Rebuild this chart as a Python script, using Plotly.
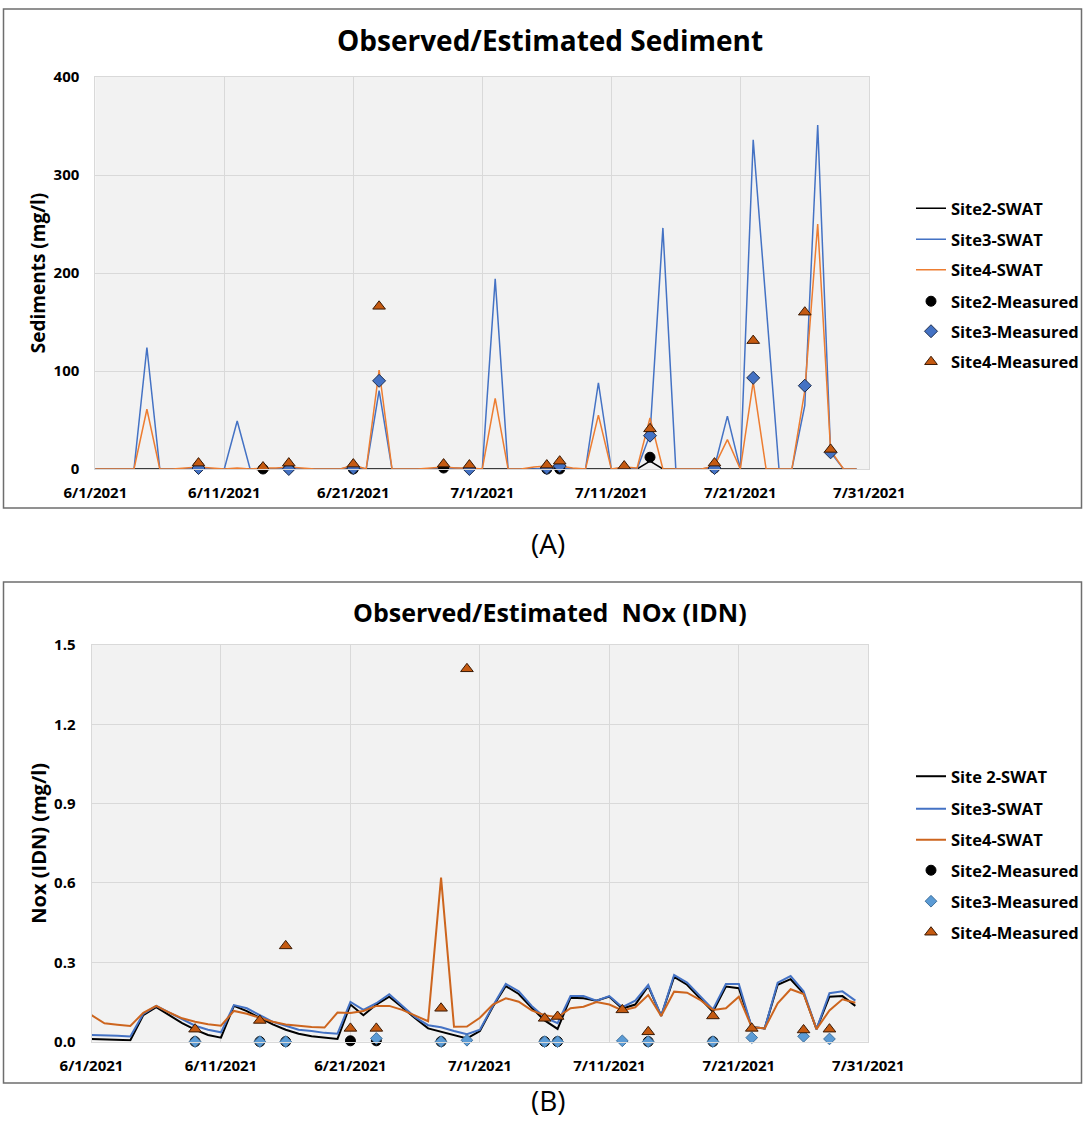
import plotly.graph_objects as go
import pandas as pd

# ---------------- data ----------------
dates = pd.date_range("2021-06-01", periods=60, freq="D")
tick_dates = ["2021-06-01", "2021-06-11", "2021-06-21", "2021-07-01",
              "2021-07-11", "2021-07-21", "2021-07-31"]
tick_labels = ["6/1/2021", "6/11/2021", "6/21/2021", "7/1/2021",
               "7/11/2021", "7/21/2021", "7/31/2021"]

# (A) Sediment, mg/l, daily SWAT estimates 6/1 .. 7/30
sed_site2_swat = [0, 0, 0, 0, 0, 0, 0, 0, 1, 0,
                  0, 0, 0, 0, 0, 0, 0, 0, 0, 0,
                  0, 0, 0, 0, 0, 0, 0, 0, 0, 0,
                  0, 0, 0, 0, 0, 0, 0, 0, 0, 0,
                  0, 0, 0, 8, 0, 0, 0, 0, 0, 0,
                  0, 0, 0, 0, 0, 0, 0, 0, 0, 0]
sed_site3_swat = [0, 0, 0, 0, 124, 0, 0, 0, 1, 0,
                  0, 49, 0, 0, 0, 1, 0, 0, 0, 0,
                  3, 0, 80, 0, 0, 0, 0, 0, 1, 0,
                  0, 194, 0, 0, 0, 1, 2, 0, 0, 88,
                  0, 1, 0, 35, 246, 0, 0, 0, 2, 54,
                  0, 336, 168, 0, 0, 65, 351, 17, 0, 0]
sed_site4_swat = [0, 0, 0, 0, 61, 0, 0, 1, 2, 1,
                  0, 1, 0, 1, 1, 2, 1, 0, 0, 0,
                  4, 0, 101, 0, 0, 0, 1, 2, 1, 1,
                  0, 72, 0, 0, 2, 3, 3, 1, 0, 55,
                  0, 2, 1, 52, 0, 0, 0, 0, 3, 30,
                  0, 89, 0, 0, 0, 80, 250, 19, 0, 0]

sed_site2_meas_dates = ["2021-06-09", "2021-06-14", "2021-06-16", "2021-06-21", "2021-06-28",
                        "2021-07-06", "2021-07-07", "2021-07-14", "2021-07-19"]
sed_site2_meas = [3, 0, 1, 0, 1, 0, 0, 12, 1]
sed_site3_meas_dates = ["2021-06-09", "2021-06-16", "2021-06-21", "2021-06-23", "2021-06-30",
                        "2021-07-06", "2021-07-07", "2021-07-14", "2021-07-19", "2021-07-22",
                        "2021-07-26", "2021-07-28"]
sed_site3_meas = [1, 0, 1, 90, 0, 1, 3, 34, 1, 93, 85, 17]
sed_site4_meas_dates = ["2021-06-09", "2021-06-14", "2021-06-16", "2021-06-21", "2021-06-23",
                        "2021-06-28", "2021-06-30", "2021-07-06", "2021-07-07", "2021-07-12",
                        "2021-07-14", "2021-07-19", "2021-07-22", "2021-07-26", "2021-07-28"]
sed_site4_meas = [6, 2, 6, 5, 166, 5, 4, 4, 8, 3, 41, 6, 131, 160, 20]

# (B) NOx (IDN), mg/l, daily SWAT estimates 6/1 .. 7/30
nox_site2_swat = [0.010, 0.008, 0.006, 0.005, 0.100, 0.130, 0.100, 0.070, 0.045, 0.025,
                  0.015, 0.135, 0.115, 0.090, 0.065, 0.045, 0.030, 0.020, 0.015, 0.010,
                  0.140, 0.100, 0.140, 0.170, 0.130, 0.088, 0.050, 0.037, 0.025, 0.012,
                  0.040, 0.132, 0.210, 0.180, 0.128, 0.080, 0.048, 0.166, 0.164, 0.155,
                  0.170, 0.125, 0.140, 0.210, 0.097, 0.245, 0.215, 0.164, 0.113, 0.208,
                  0.202, 0.054, 0.050, 0.215, 0.236, 0.183, 0.047, 0.170, 0.172, 0.135]
nox_site3_swat = [0.025, 0.024, 0.022, 0.019, 0.105, 0.135, 0.110, 0.085, 0.060, 0.045,
                  0.035, 0.138, 0.126, 0.100, 0.075, 0.060, 0.045, 0.040, 0.033, 0.030,
                  0.150, 0.120, 0.145, 0.179, 0.135, 0.092, 0.062, 0.054, 0.040, 0.028,
                  0.045, 0.135, 0.218, 0.190, 0.135, 0.092, 0.070, 0.172, 0.172, 0.155,
                  0.172, 0.130, 0.155, 0.214, 0.097, 0.252, 0.223, 0.172, 0.122, 0.218,
                  0.218, 0.054, 0.050, 0.223, 0.248, 0.190, 0.047, 0.183, 0.190, 0.155]
nox_site4_swat = [0.100, 0.069, 0.064, 0.059, 0.109, 0.135, 0.110, 0.088, 0.075, 0.066,
                  0.060, 0.116, 0.105, 0.090, 0.075, 0.065, 0.060, 0.055, 0.053, 0.110,
                  0.108, 0.116, 0.135, 0.135, 0.120, 0.100, 0.077, 0.620, 0.056, 0.057,
                  0.090, 0.140, 0.164, 0.151, 0.118, 0.100, 0.092, 0.126, 0.132, 0.150,
                  0.140, 0.118, 0.130, 0.176, 0.097, 0.189, 0.185, 0.158, 0.120, 0.126,
                  0.170, 0.054, 0.050, 0.145, 0.198, 0.180, 0.047, 0.118, 0.160, 0.147]

nox_site2_meas_dates = ["2021-06-09", "2021-06-14", "2021-06-16", "2021-06-21", "2021-06-23",
                        "2021-06-28", "2021-07-06", "2021-07-07", "2021-07-14", "2021-07-19"]
nox_site2_meas = [0, 0, 0, 0.003, 0.003, 0, 0, 0, 0, 0]
nox_site3_meas_dates = ["2021-06-09", "2021-06-14", "2021-06-16", "2021-06-23", "2021-06-28",
                        "2021-06-30", "2021-07-06", "2021-07-07", "2021-07-12", "2021-07-14",
                        "2021-07-19", "2021-07-22", "2021-07-26", "2021-07-28"]
nox_site3_meas = [0, 0, 0, 0.012, 0, 0.005, 0, 0, 0.003, 0, 0, 0.015, 0.02, 0.01]
nox_site4_meas_dates = ["2021-06-09", "2021-06-14", "2021-06-16", "2021-06-21", "2021-06-23",
                        "2021-06-28", "2021-06-30", "2021-07-06", "2021-07-07", "2021-07-12",
                        "2021-07-14", "2021-07-19", "2021-07-22", "2021-07-26", "2021-07-28"]
nox_site4_meas = [0.047, 0.08, 0.362, 0.05, 0.05, 0.126, 1.41, 0.088, 0.095, 0.12,
                  0.037, 0.097, 0.05, 0.044, 0.047]

# ---------------- figure ----------------
W, H = 1084, 1131
FONT = "Open Sans"
BLACK = "#000000"
BLUE = "#4472C4"
ORANGE_A = "#ED7D31"
ORANGE_B = "#CD651E"
TRI = "#C55A11"
DIA_A = "#4472C4"
DIA_B = "#5B9BD5"


def px(x):
    return x / W


def py(y):
    return 1 - y / H


fig = go.Figure()
leg_idx = [0]


def next_legend():
    leg_idx[0] += 1
    return "legend" if leg_idx[0] == 1 else f"legend{leg_idx[0]}"


def add_line(x, y, name, color, width, xa, ya):
    lg = next_legend()
    fig.add_trace(go.Scatter(x=x, y=y, mode="lines", name=name,
                             line=dict(color=color, width=width),
                             xaxis=xa, yaxis=ya, legend=lg, cliponaxis=False))
    return lg


def add_marks(x, y, name, symbol, fill, edge, size, xa, ya):
    lg = next_legend()
    fig.add_trace(go.Scatter(x=x, y=y, mode="markers", name=name,
                             marker=dict(symbol=symbol, color=fill, size=size,
                                         line=dict(color=edge, width=1)),
                             xaxis=xa, yaxis=ya, legend=lg, cliponaxis=False))
    return lg


legs_a = [
    add_line(dates, sed_site2_swat, "Site2-SWAT", BLACK, 1.5, "x", "y"),
    add_line(dates, sed_site3_swat, "Site3-SWAT", BLUE, 1.5, "x", "y"),
    add_line(dates, sed_site4_swat, "Site4-SWAT", ORANGE_A, 1.5, "x", "y"),
    add_marks(sed_site2_meas_dates, sed_site2_meas, "Site2-Measured", "circle", BLACK, BLACK, 10, "x", "y"),
    add_marks(sed_site3_meas_dates, sed_site3_meas, "Site3-Measured", "diamond", DIA_A, "#1F2F4F", 10, "x", "y"),
    add_marks(sed_site4_meas_dates, sed_site4_meas, "Site4-Measured", "triangle-up", TRI, "#3A1A05", 11, "x", "y"),
]
legs_b = [
    add_line(dates, nox_site2_swat, "Site 2-SWAT", BLACK, 2, "x2", "y2"),
    add_line(dates, nox_site3_swat, "Site3-SWAT", BLUE, 2, "x2", "y2"),
    add_line(dates, nox_site4_swat, "Site4-SWAT", ORANGE_B, 2, "x2", "y2"),
    add_marks(nox_site2_meas_dates, nox_site2_meas, "Site2-Measured", "circle", BLACK, BLACK, 10, "x2", "y2"),
    add_marks(nox_site3_meas_dates, nox_site3_meas, "Site3-Measured", "diamond", DIA_B, "#41719C", 9, "x2", "y2"),
    add_marks(nox_site4_meas_dates, nox_site4_meas, "Site4-Measured", "triangle-up", TRI, "#3A1A05", 11, "x2", "y2"),
]

tick_font = dict(family=FONT, size=15, color="#000000", weight="bold")
leg_font = dict(family=FONT, size=16.5, color="#000000", weight="bold")

layout = dict(
    width=W, height=H,
    margin=dict(l=0, r=0, t=0, b=0, autoexpand=False),
    paper_bgcolor="white",
    plot_bgcolor="#F2F2F2",
    showlegend=True,
)

xcommon = dict(type="date", range=["2021-06-01", "2021-07-31"],
               tickvals=tick_dates, ticktext=tick_labels,
               showgrid=True, gridcolor="#D9D9D9", gridwidth=1,
               showline=True, mirror=True, linecolor="#D9D9D9", linewidth=1,
               zeroline=False, tickfont=tick_font, ticklabelstandoff=10,
               automargin=False)
layout["xaxis"] = dict(xcommon, domain=[px(95.3), px(869.3)], anchor="y")
layout["xaxis2"] = dict(xcommon, domain=[px(91.5), px(868.3)], anchor="y2")
layout["yaxis"] = dict(range=[0, 400], dtick=100, tick0=0,
                       domain=[py(469), py(77)], anchor="x", automargin=False,
                       showgrid=True, gridcolor="#D9D9D9", zeroline=False,
                       showline=True, mirror=True, linecolor="#D9D9D9",
                       tickfont=tick_font, ticklabelstandoff=12,
                       title=dict(text="Sediments (mg/l)", standoff=2,
                                  font=dict(family=FONT, size=19, color="#000", weight="bold")))
layout["yaxis2"] = dict(range=[0, 1.5], dtick=0.3, tick0=0, tickformat=".1f",
                        domain=[py(1041.6), py(645)], anchor="x2", automargin=False,
                        showgrid=True, gridcolor="#D9D9D9", zeroline=False,
                        showline=True, mirror=True, linecolor="#D9D9D9",
                        tickfont=tick_font, ticklabelstandoff=12,
                        title=dict(text="Nox (IDN) (mg/l)", standoff=2,
                                   font=dict(family=FONT, size=20, color="#000", weight="bold")))

leg_y_a = [208.5, 239.5, 270, 301.5, 331.5, 362]
leg_y_b = [776.5, 809, 840, 870.5, 901.5, 932.5]
for lg, yy in zip(legs_a + legs_b, leg_y_a + leg_y_b):
    layout[lg] = dict(x=px(911), y=py(yy), xanchor="left", yanchor="middle",
                      bgcolor="rgba(0,0,0,0)", borderwidth=0, font=leg_font,
                      itemwidth=30)

layout["annotations"] = [
    dict(text="Observed/Estimated Sediment", x=px(550), y=py(40), xref="paper", yref="paper",
         showarrow=False, xanchor="center", yanchor="middle",
         font=dict(family=FONT, size=28, color="#000", weight="bold")),
    dict(text="Observed/Estimated\u00a0 NOx (IDN)", x=px(550), y=py(612), xref="paper", yref="paper",
         showarrow=False, xanchor="center", yanchor="middle",
         font=dict(family=FONT, size=25, color="#000", weight="bold")),
    dict(text="(A)", x=px(548), y=py(543), xref="paper", yref="paper",
         showarrow=False, xanchor="center", yanchor="middle",
         font=dict(family=FONT, size=28, color="#000")),
    dict(text="(B)", x=px(548), y=py(1100), xref="paper", yref="paper",
         showarrow=False, xanchor="center", yanchor="middle",
         font=dict(family=FONT, size=28, color="#000")),
]
layout["shapes"] = [
    dict(type="rect", xref="paper", yref="paper", x0=px(3.5), x1=px(1081.5), y0=py(508), y1=py(9),
         line=dict(color="#6E6E6E", width=1.5), fillcolor="rgba(0,0,0,0)", layer="below"),
    dict(type="rect", xref="paper", yref="paper", x0=px(3.5), x1=px(1081.5), y0=py(1083), y1=py(582),
         line=dict(color="#6E6E6E", width=1.5), fillcolor="rgba(0,0,0,0)", layer="below"),
]

fig.update_layout(**layout)

fig.write_html("out.html", config={"displayModeBar": False},
               post_script="document.body.style.margin='0';document.body.style.overflow='hidden';")
